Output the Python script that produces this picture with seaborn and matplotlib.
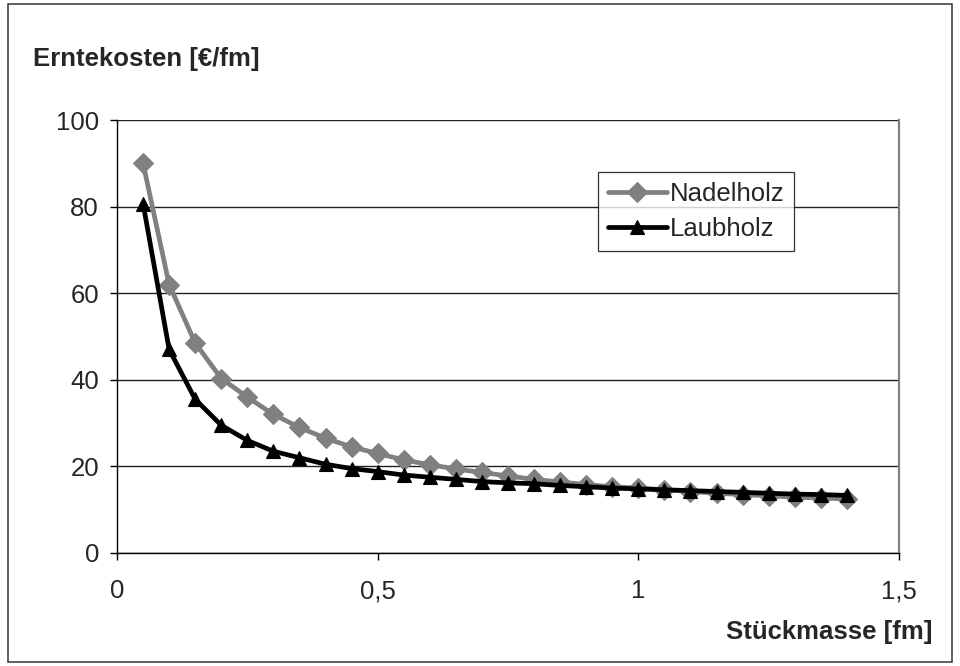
import matplotlib
matplotlib.use("Agg")
import matplotlib.pyplot as plt
from matplotlib.patches import Rectangle
from matplotlib.ticker import FuncFormatter
import seaborn as sns
import pandas as pd

# Stückmasse in fm
stueckmasse = [0.05, 0.10, 0.15, 0.20, 0.25, 0.30, 0.35, 0.40, 0.45, 0.50,
               0.55, 0.60, 0.65, 0.70, 0.75, 0.80, 0.85, 0.90, 0.95, 1.00,
               1.05, 1.10, 1.15, 1.20, 1.25, 1.30, 1.35, 1.40]
# Erntekosten in €/fm
nadelholz = [90.0, 62.0, 48.5, 40.3, 36.0, 32.0, 29.0, 26.5, 24.5, 23.0,
             21.5, 20.4, 19.4, 18.6, 17.8, 17.0, 16.4, 15.8, 15.3, 15.0,
             14.6, 14.2, 13.8, 13.5, 13.2, 12.9, 12.7, 12.5]
laubholz = [80.7, 47.0, 35.5, 29.5, 26.0, 23.5, 22.0, 20.5, 19.5, 18.8,
            18.0, 17.5, 17.0, 16.5, 16.2, 16.0, 15.6, 15.3, 15.0, 14.8,
            14.6, 14.4, 14.2, 14.0, 13.8, 13.6, 13.5, 13.3]

series_names = ["Nadelholz", "Laubholz"]
x_ticks = [0, 0.5, 1, 1.5]
y_ticks = [0, 20, 40, 60, 80, 100]

df = pd.DataFrame({
    "Stückmasse": stueckmasse * 2,
    "Erntekosten": nadelholz + laubholz,
    "Sortiment": [series_names[0]] * len(nadelholz) + [series_names[1]] * len(laubholz),
})

sns.set_style("white")
plt.rcParams["font.family"] = ["Liberation Sans", "DejaVu Sans"]
FS = 18.5

fig = plt.figure(figsize=(9.6, 6.66), dpi=100)
ax = fig.add_axes([117 / 960, 1 - 553 / 666, (899 - 117) / 960, (553 - 120) / 666])

sns.lineplot(data=df, x="Stückmasse", y="Erntekosten", hue="Sortiment",
             style="Sortiment", palette={"Nadelholz": "#808080", "Laubholz": "#000000"},
             markers={"Nadelholz": "D", "Laubholz": "^"},
             dashes={"Nadelholz": "", "Laubholz": ""},
             markersize=10.5, linewidth=3.4, markeredgewidth=0.8, ax=ax, zorder=3)
for line in ax.get_lines():
    line.set_markeredgecolor(line.get_color())

ax.set_xlim(0, 1.5)
ax.set_ylim(0, 100)
ax.set_xticks(x_ticks)
ax.set_yticks(y_ticks)
ax.xaxis.set_major_formatter(FuncFormatter(lambda v, p: f"{v:g}".replace(".", ",")))
ax.tick_params(axis="both", which="major", direction="out", length=5, width=1,
               color="#000000", labelsize=FS, left=True, bottom=True)
ax.tick_params(axis="y", pad=8)
ax.tick_params(axis="x", pad=14)
ax.grid(axis="y", color="#222222", linewidth=1, zorder=0)
ax.set_axisbelow(True)

ax.spines["top"].set_visible(False)
ax.spines["left"].set_color("#000000")
ax.spines["bottom"].set_color("#000000")
ax.spines["right"].set_color("#808080")
ax.spines["right"].set_linewidth(1.6)
for s in ["left", "bottom"]:
    ax.spines[s].set_linewidth(1)

ax.set_xlabel("")
ax.set_ylabel("")

leg = ax.legend(loc="upper left", bbox_to_anchor=((598 - 117) / (899 - 117), 1 - (172 - 120) / (553 - 120)),
                fontsize=FS, frameon=True, fancybox=False, edgecolor="#000000",
                borderpad=0.38, handlelength=2.3, handletextpad=0.1, labelspacing=0.45,
                borderaxespad=0)
leg.get_frame().set_linewidth(0.9)
leg.set_title(None)

fig.text(33 / 960, 1 - 59 / 666, "Erntekosten [€/fm]", fontsize=FS, fontweight="bold",
         ha="left", va="center")
fig.text(933 / 960, 1 - 632 / 666, "Stückmasse [fm]", fontsize=FS, fontweight="bold",
         ha="right", va="center")

fig.patches.append(Rectangle((8 / 960, 4 / 666), (952 - 8) / 960, (662 - 4) / 666,
                             transform=fig.transFigure, fill=False,
                             edgecolor="#444444", linewidth=1.2))

fig.savefig("out.png", dpi=100)
